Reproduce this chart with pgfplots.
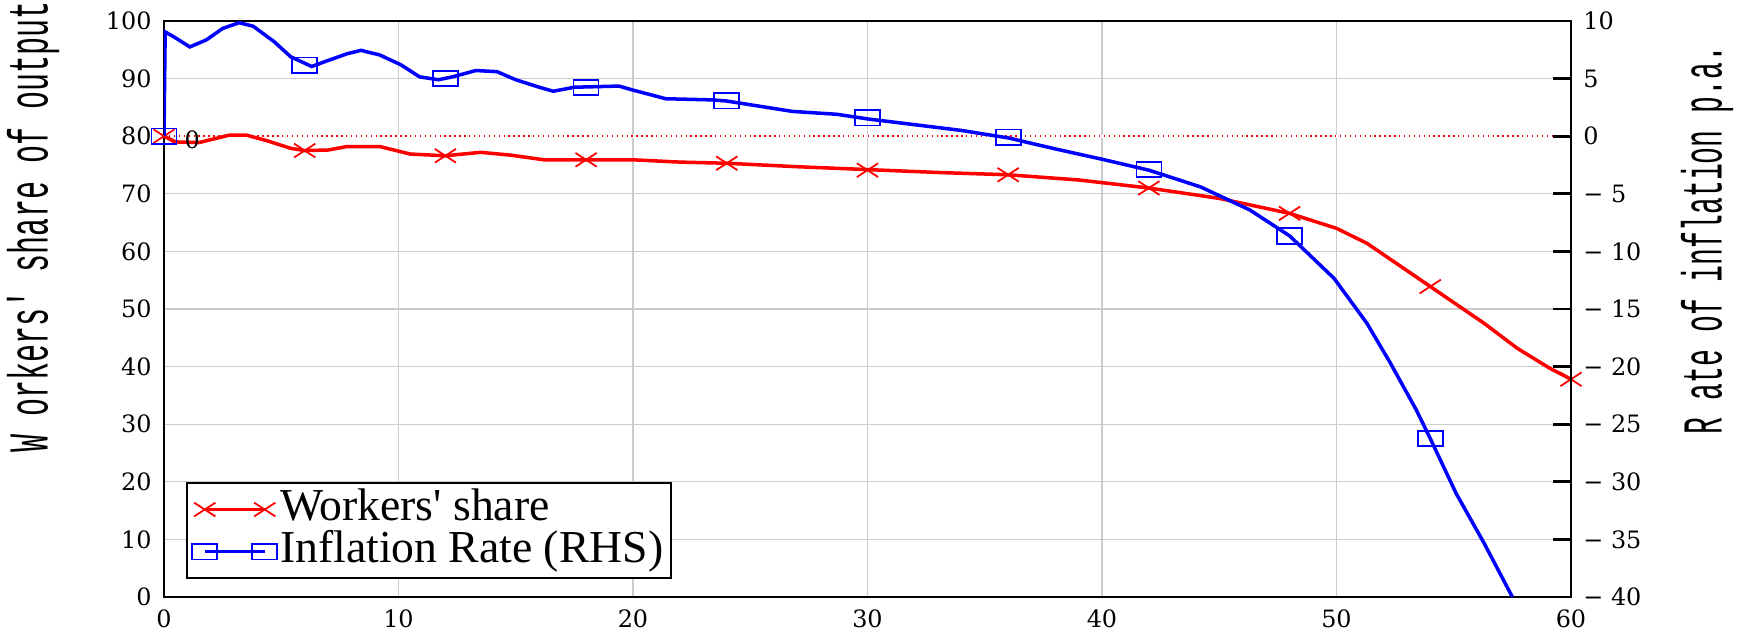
\documentclass[border=0pt]{standalone}
\usepackage{fontspec}
\setmainfont{Liberation Serif}
\newfontfamily\tickfamily{DejaVu Serif}
\newfontfamily\labelfamily{Liberation Mono}
\usepackage{graphicx}
\usepackage{pgfplots}
\pgfplotsset{compat=1.18}

\newcommand{\tickfont}{\tickfamily\fontsize{6.8}{8}\selectfont}
\newcommand{\legfont}{\fontsize{13}{15}\selectfont}
\newcommand{\axlab}[2]{\scalebox{#1}[1]{\labelfamily\fontsize{16}{18}\selectfont #2}}

\pgfplotsset{
  base/.style={
    scale only axis, width=14.07cm, height=5.76cm,
    at={(0,0)}, anchor=south west,
    xmin=0, xmax=60,
    tick label style={font=\tickfont},
    /pgf/number format/assume math mode=true,
    axis line style={line width=0.6pt},
  },
  redline/.style={red, line width=1pt},
  blueline/.style={blue, line width=1pt},
  redmark/.style={red, mark=x, mark size=0.15cm, mark options={solid, line width=0.5pt, yscale=0.65}},
  bluemark/.style={blue, mark=square, mark size=0.125cm, mark options={solid, line width=0.5pt, yscale=0.62}},
}

\begin{document}
\begin{tikzpicture}
\begin{axis}[base,
  ymin=0, ymax=100,
  xtick={0,10,...,60}, ytick={0,10,...,100},
  grid=major, grid style={line width=0.3pt, black!20},
  major tick length=0pt,
  legend cell align=left,
  legend image code/.code={\draw[mark repeat=2, mark phase=1, #1] plot coordinates {(0cm,0cm)(0.3cm,0cm)(0.6cm,0cm)};},
  legend style={at={(0.0156,0.031)}, anchor=south west, draw=black, line width=0.6pt,
    font=\legfont, inner sep=1.5pt, row sep=0pt,
    nodes={inner sep=0.8pt, text height=8.3pt, text depth=2.1pt}},
]
% thin red zero line of the right axis (left 80)
\addplot[white, line width=0.8pt, forget plot] coordinates {(0,80)(60,80)};
\addplot[red, line width=0.4pt, densely dotted, forget plot] coordinates {(0,80)(60,80)};

% workers' share
\addplot[redline, forget plot] coordinates {
  (0,80)(0.5,79)(1.5,78.9)(2.8,80.2)(3.5,80.2)(4.4,79.2)(5.4,77.9)(6,77.5)
  (7,77.6)(7.8,78.2)(9.2,78.2)(10.5,76.9)(12,76.6)(13.5,77.2)(14.8,76.7)
  (16.2,75.9)(18,75.9)(20,75.9)(22,75.5)(24,75.3)(27,74.7)(30,74.2)(33,73.7)
  (36,73.3)(39,72.4)(42,71.0)(45,69.2)(48,66.6)(50,64.0)(51.3,61.4)(54,53.9)
  (56.3,47.5)(57.7,43.2)(59.1,39.7)(60,37.8)};
\addplot[redmark, only marks, forget plot] coordinates {
  (0,80)(6,77.5)(12,76.6)(18,75.9)(24,75.3)(30,74.1)(36,73.3)(42,71.0)
  (48,66.6)(54,53.9)(60,37.8)};

\node[font=\tickfont] at (axis cs:1.2,79.4) {0};

\addlegendimage{redline, redmark}
\addlegendentry{Workers\textquotesingle\ share}
\addlegendimage{blueline, bluemark}
\addlegendentry{Inflation Rate (RHS)}
\end{axis}

\begin{axis}[base,
  ymin=-40, ymax=10,
  axis y line*=right, axis x line=none,
  ytick={-40,-35,...,10},
  yticklabels={{− 40},{− 35},{− 30},{− 25},{− 20},{− 15},{− 10},{− 5},0,5,10},
  tick align=inside, major tick length=0.18cm,
  ytick style={line width=0.8pt, black},
]
% inflation rate
\addplot[blueline] coordinates {
  (0,0)(0.05,9.05)(0.4,8.65)(1.1,7.75)(1.8,8.35)(2.5,9.35)(3.2,9.85)(3.8,9.55)
  (4.7,8.2)(5.4,6.9)(6.3,6.05)(6.9,6.5)(7.8,7.15)(8.4,7.45)(9.2,7.05)(10.1,6.2)
  (10.9,5.15)(11.7,4.9)(12.3,5.15)(13.3,5.7)(14.2,5.6)(15,4.9)(16,4.25)(16.6,3.9)
  (17.5,4.25)(19.4,4.35)(20,4.0)(21.4,3.25)(23.4,3.15)(24,3.05)(26.8,2.15)
  (28.7,1.9)(30,1.5)(32,1.0)(34,0.5)(36,-0.15)(38,-1.1)(40,-2.0)(42,-2.95)
  (44.2,-4.4)(46.3,-6.4)(48,-8.65)(49.9,-12.35)(51.3,-16.25)(52.3,-19.7)
  (53.4,-23.75)(54,-26.25)(55.1,-31)(56.3,-35.35)(57.5,-40)};
\addplot[bluemark, only marks] coordinates {
  (0,0)(6,6.15)(12,5.0)(18,4.23)(24,3.07)(30,1.6)(36,-0.1)(42,-2.9)
  (48,-8.67)(54,-26.25)};
\end{axis}

\node[rotate=90] at (-1.31cm,3.70cm) {\axlab{0.535}{W orkers\textquotesingle\ share of output}};
\node[rotate=90] at (15.43cm,3.57cm) {\axlab{0.50}{R ate of inflation p.a.}};

\pgfresetboundingbox
\path[use as bounding box] (-1.64cm,-0.33cm) rectangle (15.73cm,5.97cm);
\end{tikzpicture}
\end{document}
